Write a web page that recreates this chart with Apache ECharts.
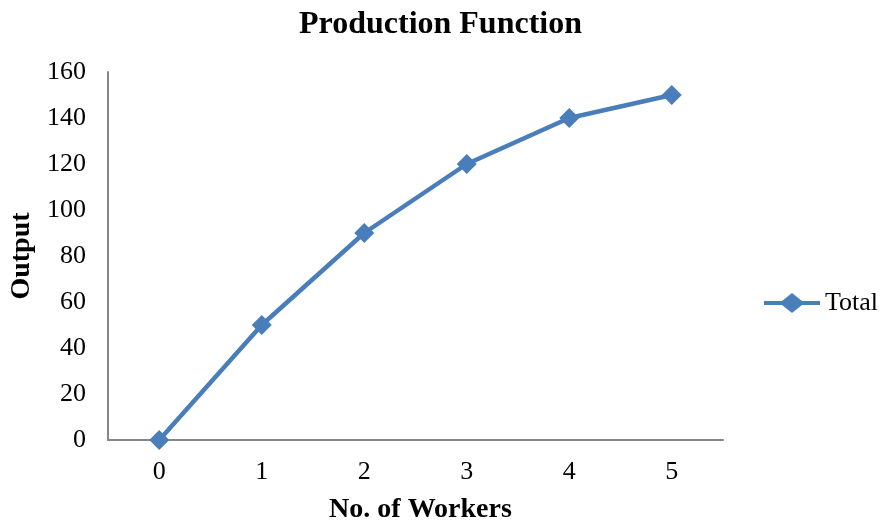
<!DOCTYPE html>
<html>
<head>
<meta charset="utf-8">
<script src="https://cdn.jsdelivr.net/npm/echarts@6/dist/echarts.min.js"></script>
<style>
  html, body { margin: 0; padding: 0; background: #fff; }
  #chart { width: 881px; height: 524px; }
</style>
</head>
<body>
<div id="chart"></div>
<script>
// Workers employed and the total output they produce
const workers = ['0', '1', '2', '3', '4', '5'];
const totalOutput = [0, 50, 90, 120, 140, 150];
const seriesName = 'Total';

const serif = '"Liberation Serif", "Times New Roman", serif';
const axisGray = '#868686';
const lineBlue = '#4a7ebb';

// Legend marker: thick line with a diamond in the middle
const legendIcon = 'path://M0,8L18,8L28,0L38,8L56,8L56,12L38,12L28,20L18,12L0,12Z';

const chart = echarts.init(document.getElementById('chart'), null, { renderer: 'canvas' });
chart.setOption({
  backgroundColor: '#ffffff',
  animation: false,
  title: {
    text: 'Production Function',
    left: 'center',
    top: 4,
    textStyle: { fontFamily: serif, fontSize: 32, fontWeight: 'bold', color: '#000' }
  },
  legend: {
    data: [{ name: seriesName, icon: legendIcon }],
    orient: 'vertical',
    left: 759,
    top: 285,
    itemWidth: 56,
    itemHeight: 20,
    itemGap: 4,
    itemStyle: { color: lineBlue },
    textStyle: { fontFamily: serif, fontSize: 26, color: '#000' }
  },
  grid: { left: 108, right: 158, top: 72, bottom: 84, containLabel: false, outerBoundsMode: 'none' },
  xAxis: {
    type: 'category',
    data: workers,
    boundaryGap: true,
    name: 'No. of Workers',
    nameLocation: 'middle',
    nameGap: 56,
    nameTextStyle: { fontFamily: serif, fontSize: 28, fontWeight: 'bold', color: '#000', padding: [0, 0, 0, 10] },
    axisLine: { lineStyle: { color: axisGray, width: 2 } },
    axisTick: { show: false },
    axisLabel: { fontFamily: serif, fontSize: 26, color: '#000', margin: 19 },
    splitLine: { show: false }
  },
  yAxis: {
    type: 'value',
    min: 0,
    max: 160,
    interval: 20,
    name: 'Output',
    nameLocation: 'middle',
    nameGap: 67,
    nameTextStyle: { fontFamily: serif, fontSize: 28, fontWeight: 'bold', color: '#000' },
    axisLine: { show: true, lineStyle: { color: axisGray, width: 2 } },
    axisTick: { show: false },
    axisLabel: { fontFamily: serif, fontSize: 26, color: '#000', margin: 22 },
    splitLine: { show: false }
  },
  series: [{
    name: seriesName,
    type: 'line',
    data: totalOutput,
    symbol: 'diamond',
    symbolSize: 20,
    lineStyle: { color: lineBlue, width: 4.5 },
    itemStyle: { color: lineBlue },
    z: 3
  }]
});
</script>
</body>
</html>
